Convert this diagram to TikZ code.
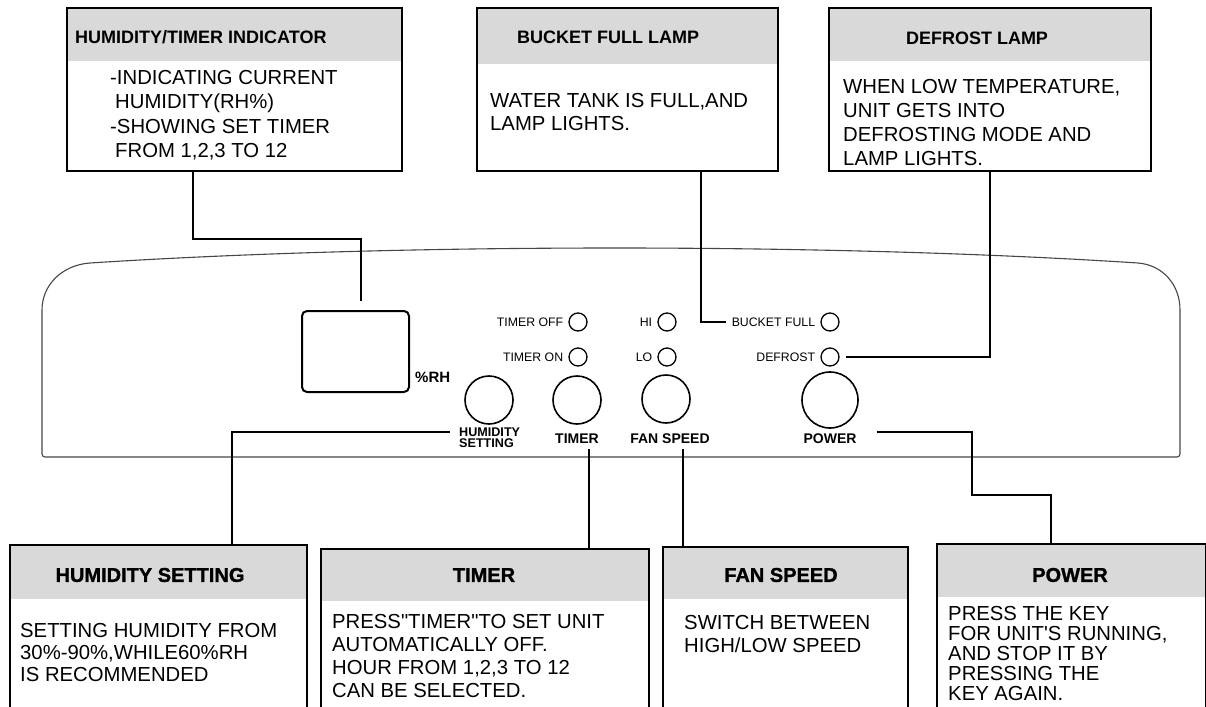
\documentclass[tikz,border=0pt]{standalone}
\usepackage{fontspec}
\setmainfont{Liberation Sans}[Ligatures=TeXOff]
\newfontfamily\heavyfont{Liberation Sans}[UprightFont=*-Bold, FakeBold=1.2, Ligatures=TeXOff]
\definecolor{headgray}{RGB}{217,217,217}
\definecolor{rimgray}{RGB}{70,70,70}
\tikzset{
  infobox/.style={draw, line width=1.8pt, anchor=north west, inner sep=0pt,
    path picture={\fill[headgray] (path picture bounding box.north west)
      rectangle ([yshift=-#1]path picture bounding box.north east);}},
  toptitle/.style={font=\bfseries\fontsize{18}{21}\selectfont, inner sep=0pt},
  boxtitle/.style={font=\heavyfont\fontsize{20}{23}\selectfont, inner sep=0pt},
  note/.style={font=\fontsize{20.3}{#1}\selectfont, align=left, inner sep=0pt, anchor=base west},
  link/.style={line width=1.8pt},
  led/.style={circle, draw, line width=1.3pt, minimum size=18pt, inner sep=0pt},
  ledlab/.style={font=\fontsize{12.3}{14}\selectfont, inner sep=0pt, anchor=east},
  knob/.style={circle, draw, line width=1.6pt, minimum size=48pt, inner sep=0pt},
  knoblab/.style={font=\bfseries\fontsize{14}{16}\selectfont, inner sep=0pt, anchor=base}
}
\begin{document}
\begin{tikzpicture}[x=1pt,y=-1pt]
\useasboundingbox (0,0) rectangle (1206,706);

% control panel
\draw[rimgray,line width=1.1pt] (90,263) .. controls (400,243) and (830,243) .. (1138,263)
  .. controls (1163,265) and (1180,285) .. (1180,310)
  [rounded corners=3pt] -- (1180,457) -- (42,457) -- (42,330)
  [sharp corners] -- (42,310) .. controls (42,285) and (62,265) .. (90,263);

\node[draw, line width=2pt, rounded corners=5pt, minimum width=107pt, minimum height=81pt, inner sep=0pt] (disp) at (355.5,351.5) {};
\node[font=\bfseries\fontsize{15}{18}\selectfont, inner sep=0pt, anchor=base west] (rh) at (415,382) {\%RH};

\node[led] (toff) at (578,322) {};
\node[led] (ton) at (578,357) {};
\node[led] (hi) at (667,322) {};
\node[led] (lo) at (667,357) {};
\node[led] (bfled) at (830,322) {};
\node[led] (dfled) at (830,357) {};
\node[ledlab] (tofflab) at ([xshift=-5pt]toff.west) {TIMER OFF};
\node[ledlab] (tonlab) at ([xshift=-5pt]ton.west) {TIMER ON};
\node[ledlab] (hilab) at ([xshift=-5pt]hi.west) {HI};
\node[ledlab] (lolab) at ([xshift=-5pt]lo.west) {LO};
\node[ledlab] (bflab) at ([xshift=-5pt]bfled.west) {BUCKET FULL};
\node[ledlab] (dflab) at ([xshift=-5pt]dfled.west) {DEFROST};

\node[knob] (hsknob) at (489,400) {};
\node[knob] (tmknob) at (577,400) {};
\node[knob] (fnknob) at (666,399) {};
\node[knob, minimum size=56pt] (pwknob) at (830,400) {};
\node[font=\bfseries\fontsize{12.6}{10.5}\selectfont, align=left, inner sep=0pt, anchor=north west] (hslab) at (459,428) {HUMIDITY\\SETTING};
\node[knoblab] (tmlab) at (577,443) {TIMER};
\node[knoblab] (fnlab) at (670,443) {FAN SPEED};
\node[knoblab] (pwlab) at (830,443) {POWER};

% top boxes
\node[infobox=53pt, minimum width=335pt, minimum height=163pt] (ind) at (66,7) {};
\node[toptitle, anchor=west] (indtitle) at (75,37) {HUMIDITY/TIMER INDICATOR};
\node[note=24pt] (indtext) at (110,157) {-INDICATING CURRENT\\\hspace*{5pt}HUMIDITY(RH\%)\\-SHOWING SET TIMER\\\hspace*{5pt}FROM 1,2,3 TO 12};

\node[infobox=56pt, minimum width=301pt, minimum height=163pt] (bfl) at (476,7) {};
\node[toptitle, anchor=west] (bfltitle) at (517,37) {BUCKET FULL LAMP};
\node[note=23pt] (bfltext) at (490,130) {WATER TANK IS FULL,AND\\LAMP LIGHTS.};

\node[infobox=53pt, minimum width=322pt, minimum height=163pt] (dfl) at (828,7) {};
\node[toptitle] (dfltitle) at (977,38) {DEFROST LAMP};
\node[note=24pt] (dfltext) at (843,165) {WHEN LOW TEMPERATURE,\\UNIT GETS INTO\\DEFROSTING MODE AND\\LAMP LIGHTS.};

% bottom boxes
\node[infobox=54pt, minimum width=297pt, minimum height=200pt] (hsbox) at (9,544) {};
\node[boxtitle] (hstitle) at (150,575) {HUMIDITY SETTING};
\node[note=22pt] (hstext) at (20,681) {SETTING HUMIDITY FROM\\30\%-90\%,WHILE60\%RH\\IS RECOMMENDED};

\node[infobox=52pt, minimum width=328pt, minimum height=200pt] (tmbox) at (320,548) {};
\node[boxtitle] (tmtitle) at (484,575) {TIMER};
\node[note=23pt] (tmtext) at (332,697) {PRESS"TIMER"TO SET UNIT\\AUTOMATICALLY OFF.\\HOUR FROM 1,2,3 TO 12\\CAN BE SELECTED.};

\node[infobox=52pt, minimum width=245pt, minimum height=200pt] (fnbox) at (662,546) {};
\node[boxtitle] (fntitle) at (781,575) {FAN SPEED};
\node[note=23pt] (fntext) at (684,652) {SWITCH BETWEEN\\HIGH/LOW SPEED};

\node[infobox=53pt, minimum width=269pt, minimum height=200pt] (pwbox) at (936,543) {};
\node[boxtitle] (pwtitle) at (1070,575) {POWER};
\node[note=20pt] (pwtext) at (948,700) {PRESS THE KEY\\FOR UNIT'S RUNNING,\\AND STOP IT BY\\PRESSING THE\\KEY AGAIN.};

% leader lines
\coordinate (tmtap) at ([xshift=12pt,yshift=-6pt]tmlab.south);
\coordinate (fntap) at ([xshift=13pt,yshift=-6pt]fnlab.south);
\draw[link] ([xshift=-41.5pt]ind.south) -- ++(0,67) -| ([xshift=5.5pt,yshift=9pt]disp.north);
\draw[link] ([xshift=73.5pt]bfl.south) |- ([xshift=-6pt]bflab.west);
\draw[link] (dfl.south) |- ([xshift=6pt]dfled.east);
\draw[link] ([xshift=-9pt,yshift=-4pt]hslab.north west) -| ([xshift=73.5pt]hsbox.north);
\draw[link] (tmtap) -- (tmtap |- tmbox.north);
\draw[link] (fntap) -- (fntap |- fnbox.north);
\draw[link] ([xshift=20pt,yshift=6pt]pwlab.east) -| ++(95,63) -| ([xshift=-20.5pt]pwbox.north);
\end{tikzpicture}
\end{document}
